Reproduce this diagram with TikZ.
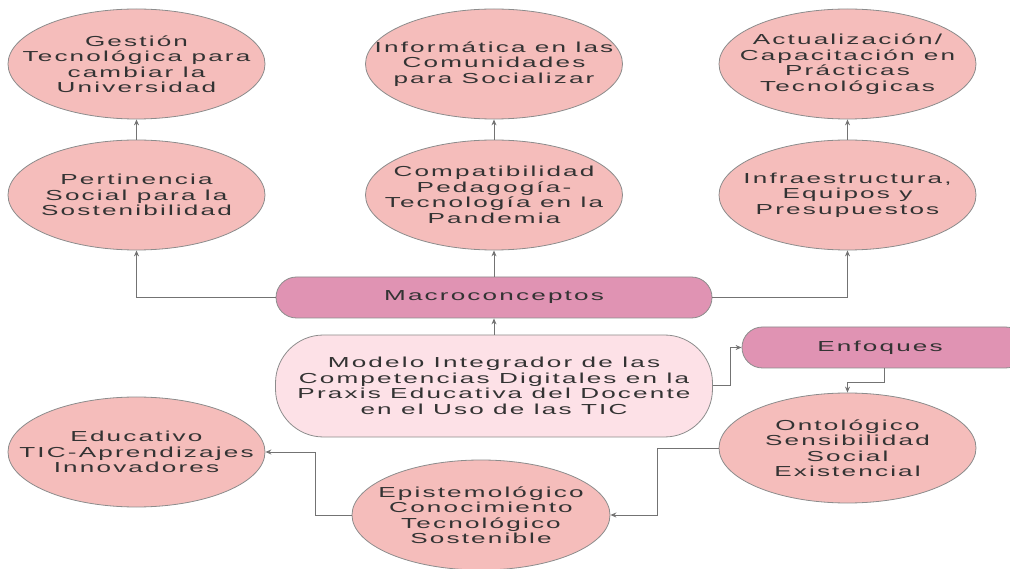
\documentclass[tikz,border=0pt]{standalone}
\usepackage{fontspec}
\setmainfont[FakeStretch=1.8, LetterSpace=15]{Liberation Sans}
\usetikzlibrary{arrows.meta, shapes.geometric}
\definecolor{petal}{HTML}{F5BDBB}
\definecolor{mauve}{HTML}{E093B3}
\definecolor{blush}{HTML}{FDE1E7}
\definecolor{edge}{HTML}{8C8C8C}
\definecolor{wire}{HTML}{737373}
\definecolor{ink}{HTML}{333333}

\begin{document}
\begin{tikzpicture}[x=1pt, y=-1pt, >={Stealth[length=6pt, width=5pt]},
  idea/.style={ellipse, draw=edge, line width=0.8pt, fill=petal, inner xsep=-30pt, inner ysep=0pt,
    minimum width=257pt, minimum height=110pt, align=center, text=ink,
    font=\fontsize{14.5}{15.5}\selectfont},
  pill/.style={rectangle, rounded corners=20.5pt, draw=edge, line width=0.8pt, fill=mauve,
    inner sep=0pt, minimum height=41pt, text=ink, font=\fontsize{14.5}{15.5}\selectfont},
  core/.style={rectangle, rounded corners=48pt, draw=edge, line width=0.8pt, fill=blush,
    inner sep=0pt, minimum width=437pt, minimum height=102pt, align=center, text=ink,
    font=\fontsize{14.5}{15.5}\selectfont},
  wire/.style={draw=wire, line width=1pt, ->}]
  \useasboundingbox (0,0) rectangle (1010,569);

  % upper row
  \node[idea] (gestion) at (136.5,64) {Gestión\\Tecnológica para\\cambiar la\\Universidad};
  \node[idea] (informa) at (494,64) {Informática en las\\Comunidades\\para Socializar};
  \node[idea] (actual) at (847.5,64) {Actualización/\\Capacitación en\\Prácticas\\Tecnológicas};

  \node[idea] (pertin) at (136.5,195) {Pertinencia\\Social para la\\Sostenibilidad};
  \node[idea] (compat) at (494,195) {Compatibilidad\\Pedagogía-\\Tecnología en la\\Pandemia};
  \node[idea] (infra) at (847.5,195) {Infraestructura,\\Equipos y\\Presupuestos};

  % centre
  \node[pill, minimum width=436pt] (macro) at (494,297.5) {Macroconceptos};
  \node[core] (modelo) at (494,386) {Modelo Integrador de las\\Competencias Digitales en la\\Praxis Educativa del Docente\\en el Uso de las TIC};
  \node[pill, minimum width=284pt] (enfoq) at (884,347.5) {\hspace*{-8pt}Enfoques};

  % lower row
  \node[idea] (onto) at (847.5,448) {Ontológico\\Sensibilidad\\Social\\Existencial};
  \node[idea, minimum width=258pt] (episte) at (481,515) {Epistemológico\\Conocimiento\\Tecnológico\\Sostenible};
  \node[idea] (educa) at (136.5,452) {Educativo\\TIC-Aprendizajes\\Innovadores};

  \draw[wire] (pertin.north) -- (gestion.south);
  \draw[wire] (compat.north) -- (informa.south);
  \draw[wire] (infra.north) -- (actual.south);

  \draw[wire] (macro.west) -| (pertin.south);
  \draw[wire] (macro.north) -- (compat.south);
  \draw[wire] (macro.east) -| (infra.south);
  \draw[wire] (modelo.north) -- (macro.south);

  \draw[wire] (modelo.east) -- ++(18,0) |- (enfoq.west);
  \draw[wire] (enfoq.south) -- ++(0,14) -| (onto.north);
  \draw[wire] (onto.west) -- ++(-61,0) |- (episte.east);
  \draw[wire] (episte.west) -- ++(-36,0) |- (educa.east);
\end{tikzpicture}
\end{document}
